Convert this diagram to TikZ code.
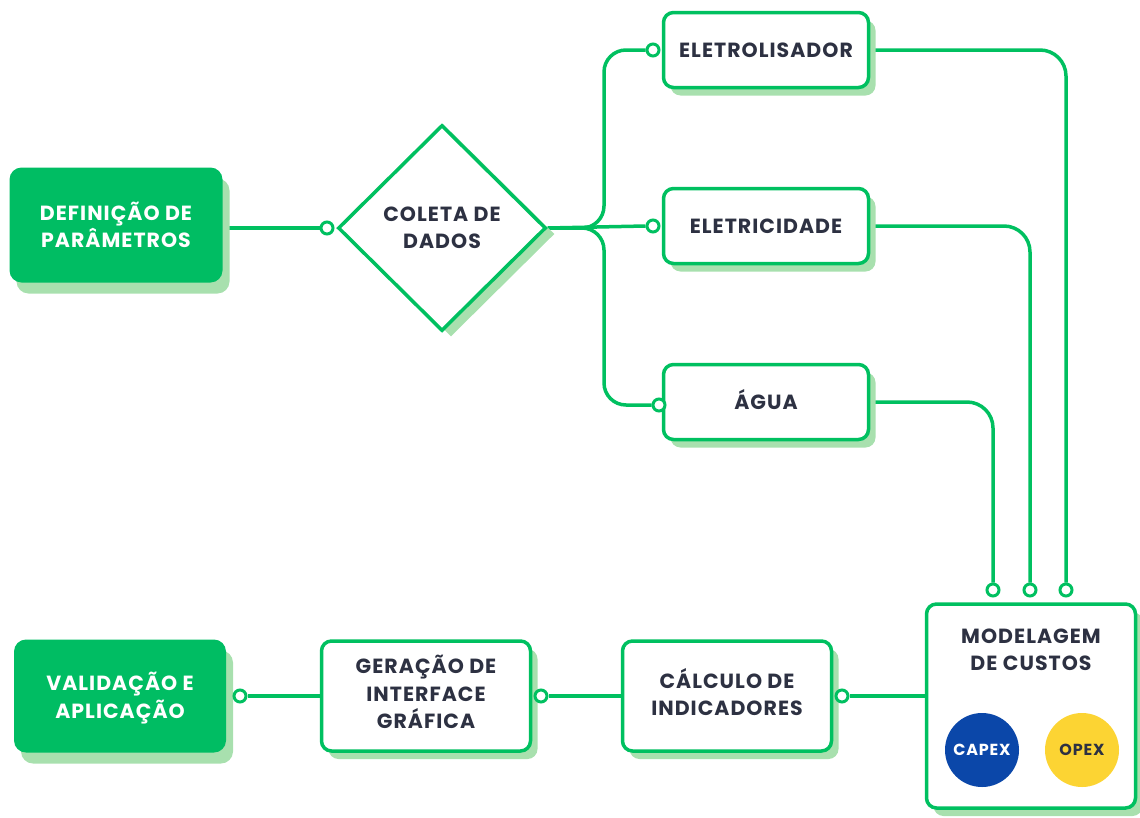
\documentclass[tikz,border=0pt]{standalone}
\usepackage{fontspec}
\setmainfont{Poppins}[LetterSpace=5]
\usetikzlibrary{shapes.geometric,shadows}
\definecolor{gline}{HTML}{00C060}
\definecolor{gfill}{HTML}{00BD63}
\definecolor{gshadow}{HTML}{A8E0AE}
\definecolor{ink}{HTML}{2D3142}
\definecolor{capexblue}{HTML}{0B47A9}
\definecolor{opexyellow}{HTML}{FCD433}
\newcommand\lblfont{\fontsize{20.5}{27.5}\selectfont\bfseries}
\pgfdeclarelayer{bg}
\pgfsetlayers{bg,main}
\tikzset{
  shd/.style={drop shadow={shadow xshift=7pt, shadow yshift=-8pt, fill=gshadow, opacity=1}},
  wbox/.style={draw=gline, line width=3.5pt, rounded corners=10pt, fill=white, align=center,
    text=ink, font=\lblfont, inner sep=0pt, shd},
  onerow/.style={text height=14pt, text depth=0pt},
  lbl/.style={text=ink, font=\lblfont, align=center, inner sep=0pt},
  gbox/.style={fill=gfill, rounded corners=12pt, align=center, text=white, font=\lblfont,
    inner sep=0pt, drop shadow={shadow xshift=7pt, shadow yshift=-11pt, fill=gshadow, opacity=1}},
  dia/.style={diamond, draw=gline, line width=3.5pt, fill=white, align=center, text=ink,
    font=\lblfont, inner sep=0pt, aspect=1,
    drop shadow={shadow xshift=9pt, shadow yshift=-6pt, fill=gshadow, opacity=1}},
  dot/.style={circle, draw=gline, line width=3pt, fill=white, minimum size=12pt, inner sep=0pt},
  conn/.style={draw=gline, line width=3.5pt},
  pill/.style={circle, minimum size=74pt, inner sep=0pt, font=\fontsize{16}{18}\selectfont\bfseries},
}
\begin{document}
\begin{tikzpicture}[x=1pt,y=-1pt]
\useasboundingbox (0,0) rectangle (1140,817);
% main nodes
\node[gbox, minimum width=213pt, minimum height=115pt] (def) at (116,225) {DEFINIÇÃO DE\\PARÂMETROS};
\node[dia, minimum width=208pt, minimum height=206pt] (col) at (442,228) {COLETA DE\\DADOS};
\node[wbox, onerow, minimum width=205pt, minimum height=75pt] (ele) at (766,50) {ELETROLISADOR};
\node[wbox, onerow, minimum width=205pt, minimum height=75pt] (elc) at (766,226) {ELETRICIDADE};
\node[wbox, onerow, minimum width=205pt, minimum height=75pt] (agu) at (766,402) {ÁGUA};
\node[wbox, minimum width=209pt, minimum height=204pt] (mod) at (1031,706) {};
\node[lbl] (modlbl) at (1031,650) {MODELAGEM\\DE CUSTOS};
\node[pill, fill=capexblue, text=white] (capex) at (982,750) {CAPEX};
\node[pill, fill=opexyellow, text=ink] (opex) at (1082,750) {OPEX};
\node[wbox, minimum width=209pt, minimum height=110pt] (cal) at (727,696) {};
\node[lbl] (caltxt) at (727,692) {CÁLCULO DE\\INDICADORES};
\node[wbox, minimum width=209pt, minimum height=110pt] (ger) at (426,696) {};
\node[lbl] (gertxt) at (426,692) {GERAÇÃO DE\\INTERFACE\\GRÁFICA};
\node[gbox, minimum width=212pt, minimum height=113pt] (val) at (120,696) {};
\node[lbl, text=white] (valtxt) at (120,698) {VALIDAÇÃO E\\APLICAÇÃO};
% small circles
\node[dot] (d1) at (327,228) {};
\node[dot] (d0) at (653,50) {};
\node[dot] (d2) at (653,226) {};
\node[dot] (d3) at (659,405) {};
\node[dot] (m1) at (993,590) {};
\node[dot] (m2) at (1030,590) {};
\node[dot] (m3) at (1066,590) {};
\node[dot] (dm) at (842,696) {};
\node[dot] (dg) at (541,696) {};
\node[dot] (dv) at (240,696) {};
\coordinate (jx) at (604,228);
\begin{pgfonlayer}{bg}
\draw[conn] (d1.west -| def.east) -- (d1.west);
\draw[conn] (col.east) -- (d2.west);
\draw[conn, rounded corners=22pt] (col.east) -- (jx) -- (jx |- d0) -- (d0.west);
\draw[conn, rounded corners=22pt] (col.east) -- (jx) -- (jx |- d3) -- (d3.west);
\draw[conn, rounded corners=26pt] (ele.east) -| (m3.north);
\draw[conn, rounded corners=26pt] (elc.east) -| (m2.north);
\draw[conn, rounded corners=26pt] (agu.east) -| (m1.north);
\draw[conn] (dm.east) -- (dm.east -| mod.west);
\draw[conn] (cal.west) -- (dg.east);
\draw[conn] (ger.west) -- (dv.east);
\end{pgfonlayer}
\end{tikzpicture}
\end{document}
